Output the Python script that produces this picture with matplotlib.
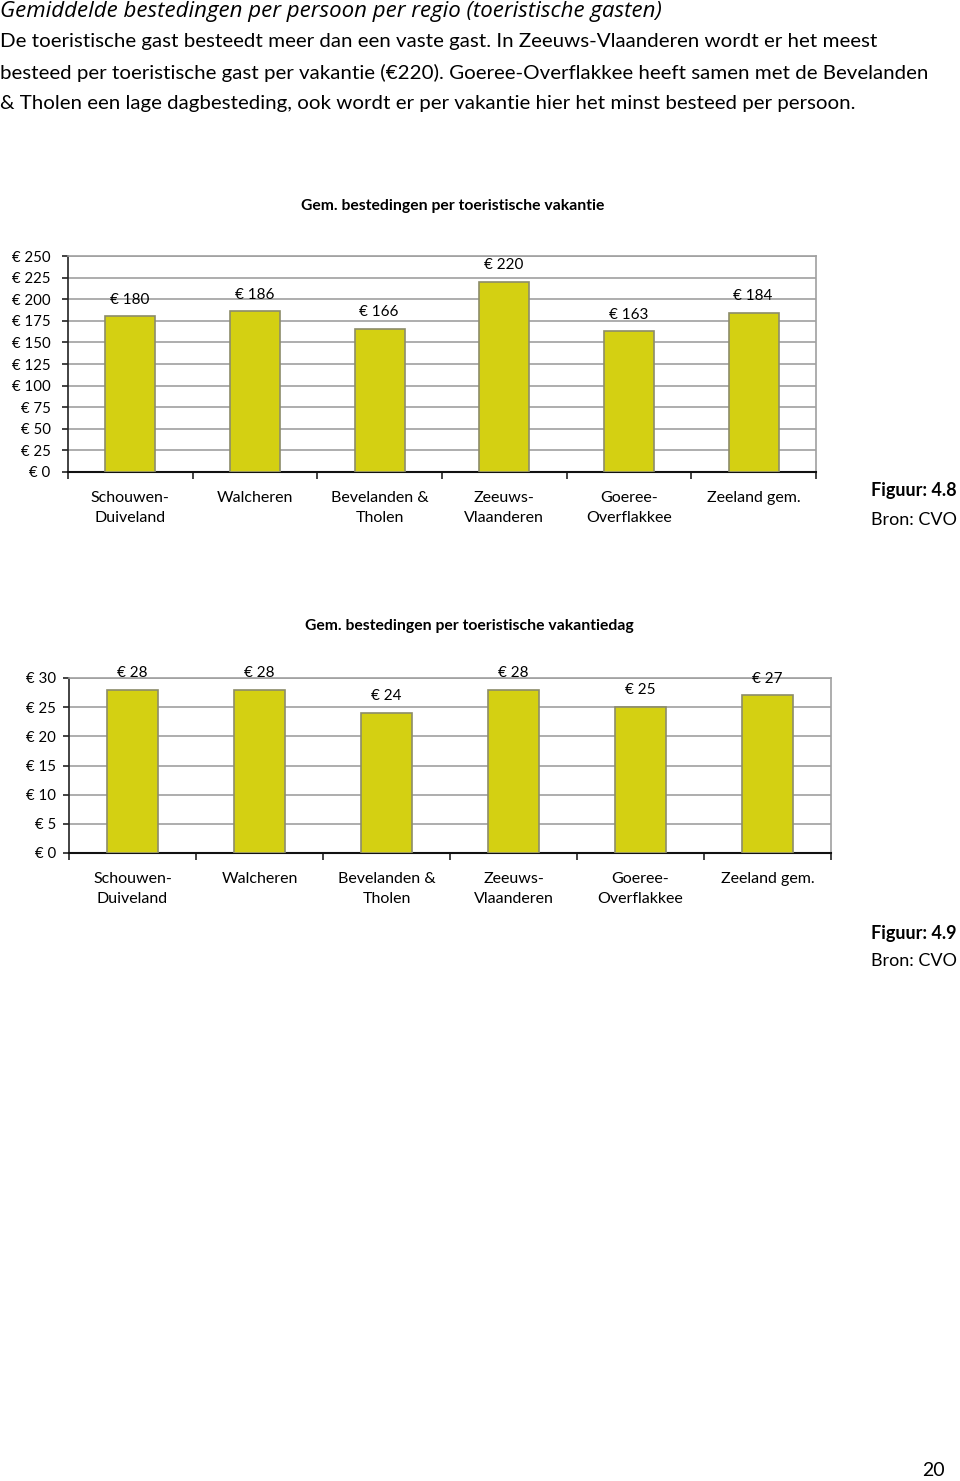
import matplotlib
matplotlib.use("Agg")
import matplotlib.pyplot as plt
from matplotlib.ticker import FixedLocator

plt.rcParams['font.family'] = ['Lato', 'DejaVu Sans']

W, H = 960, 1481

regions = ["Schouwen-\nDuiveland", "Walcheren", "Bevelanden &\nTholen",
           "Zeeuws-\nVlaanderen", "Goeree-\nOverflakkee", "Zeeland gem."]
per_vakantie = [180, 186, 166, 220, 163, 184]
per_dag = [28, 28, 24, 28, 25, 27]
ticks_vakantie = [0, 25, 50, 75, 100, 125, 150, 175, 200, 225, 250]
ticks_dag = [0, 5, 10, 15, 20, 25, 30]

bar_color = "#d4d012"
edge_color = "#8c8c6a"
grid_color = "#a0a0a0"

fig = plt.figure(figsize=(W / 100, H / 100), dpi=100)


def px_axes(left, top, right, bottom):
    return fig.add_axes([left / W, 1 - bottom / H, (right - left) / W, (bottom - top) / H])


def bar_chart(ax, values, yticks, title, title_x, title_y, ypad):
    x = list(range(len(values)))
    ax.bar(x, values, width=0.4, color=bar_color, edgecolor=edge_color, linewidth=1.2, zorder=3)
    ax.set_xlim(-0.5, len(values) - 0.5)
    ax.set_ylim(yticks[0], yticks[-1])
    ax.set_yticks(yticks)
    ax.set_yticklabels(["€ %d" % t for t in yticks], fontsize=10.8)
    ax.yaxis.grid(True, color=grid_color, linewidth=1.2, zorder=0)
    ax.set_xticks(x)
    ax.set_xticklabels(regions, fontsize=11.5, linespacing=1.55)
    ax.xaxis.set_minor_locator(FixedLocator([i - 0.5 for i in range(len(values) + 1)]))
    ax.tick_params(axis='x', which='major', length=0, pad=14)
    ax.tick_params(axis='x', which='minor', length=5, width=1.2, color='#222222', direction='out')
    ax.tick_params(axis='y', length=4.5, width=1.2, color='#222222', pad=ypad)
    for s in ['top', 'right']:
        ax.spines[s].set_color(grid_color)
        ax.spines[s].set_linewidth(1.2)
    ax.spines['left'].set_color('#222222')
    ax.spines['bottom'].set_color('#111111')
    ax.spines['left'].set_linewidth(1.2)
    ax.spines['bottom'].set_linewidth(1.5)
    for xi, v in zip(x, values):
        ax.annotate("€ %d" % v, (xi, v), xytext=(-0.5, 12), textcoords='offset points',
                    ha='center', va='center', fontsize=11)
    fig.text(title_x / W, 1 - title_y / H, title,
             ha='center', va='center', fontsize=11.3, fontweight='bold')


# header text
fig.text(0, 1 - 11 / H, "Gemiddelde bestedingen per persoon per regio (toeristische gasten)",
         fontsize=16, style='italic', va='center', ha='left', family=['Open Sans', 'DejaVu Sans'])
body = ["De toeristische gast besteedt meer dan een vaste gast. In Zeeuws-Vlaanderen wordt er het meest",
        "besteed per toeristische gast per vakantie (€220). Goeree-Overflakkee heeft samen met de Bevelanden",
        "& Tholen een lage dagbesteding, ook wordt er per vakantie hier het minst besteed per persoon."]
for i, line in enumerate(body):
    fig.text(0, 1 - (42 + 31 * i) / H, line, fontsize=14.76, va='center', ha='left')

ax1 = px_axes(68, 256, 816, 472)
bar_chart(ax1, per_vakantie, ticks_vakantie, "Gem. bestedingen per toeristische vakantie", 453, 206, 8)
fig.text(871 / W, 1 - 491 / H, "Figuur: 4.8", fontsize=13, fontweight='bold', va='center')
fig.text(871 / W, 1 - 520 / H, "Bron: CVO", fontsize=13, va='center')

ax2 = px_axes(69, 678, 831, 853)
bar_chart(ax2, per_dag, ticks_dag, "Gem. bestedingen per toeristische vakantiedag", 469, 626, 5)
fig.text(871 / W, 1 - 933 / H, "Figuur: 4.9", fontsize=13, fontweight='bold', va='center')
fig.text(871 / W, 1 - 961 / H, "Bron: CVO", fontsize=13, va='center')

fig.text(945 / W, 1 - 1470 / H, "20", fontsize=14, ha='right', va='center')

fig.savefig("out.png", dpi=100)
